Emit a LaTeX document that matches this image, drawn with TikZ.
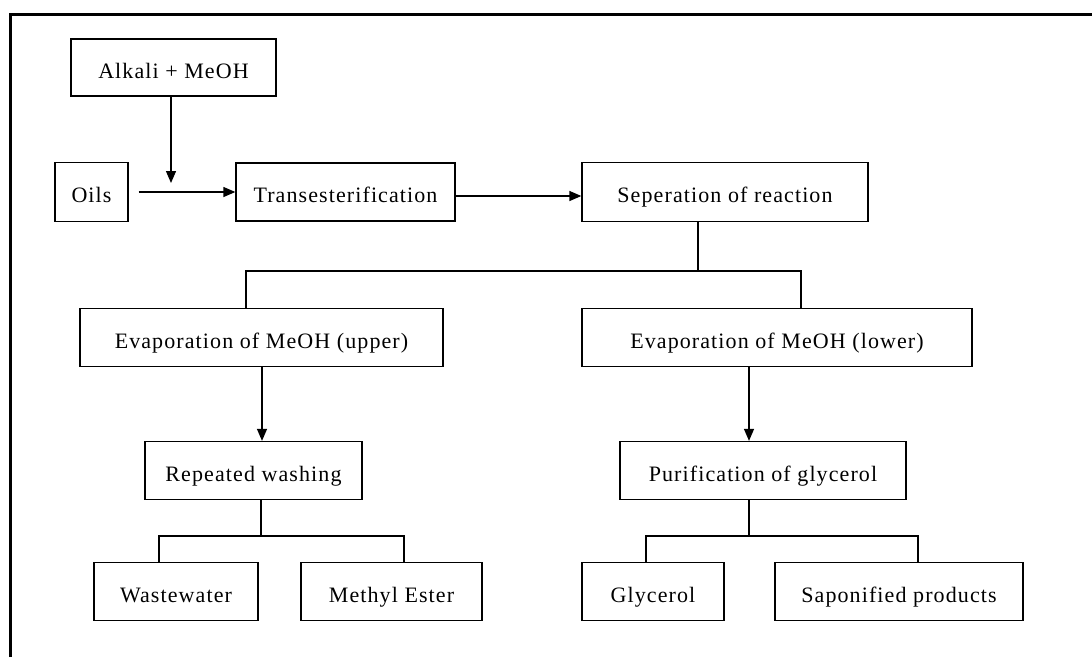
\documentclass[tikz,border=0pt]{standalone}
\usepackage{fontspec}
\setmainfont[LetterSpace=5]{Liberation Serif}
\usetikzlibrary{arrows.meta}
\begin{document}
\begin{tikzpicture}[x=1pt,y=-1pt,
  box/.style={draw=black,line width=1.3pt,inner sep=0pt,align=center,
    text height=22pt,text depth=1pt,
    font=\fontsize{22}{26}\selectfont},
  conn/.style={draw=black,line width=1.3pt},
  arr/.style={conn,-{Triangle[length=12pt,width=10pt]}}]
\useasboundingbox (0,0) rectangle (1092,657);
\fill[white] (0,0) rectangle (1092,657);
% outer frame
\draw[line width=3pt] (10,657) -- (10,14) -- (1092,14);
% boxes
\node[box,minimum width=205pt,minimum height=57pt] (alk) at (173.5,67.5) {Alkali + MeOH};
\node[box,minimum width=73pt,minimum height=59pt] (oils) at (91.5,192) {Oils};
\node[box,minimum width=219pt,minimum height=58pt] (trans) at (345.5,192) {Transesterification};
\node[box,minimum width=286pt,minimum height=59pt] (sep) at (725,192) {Seperation of reaction};
\node[box,minimum width=363pt,minimum height=58pt] (evu) at (261.5,337.5) {Evaporation of MeOH (upper)};
\node[box,minimum width=390pt,minimum height=58pt] (evl) at (777,337.5) {Evaporation of MeOH (lower)};
\node[box,minimum width=217pt,minimum height=58pt] (rep) at (253.5,470.5) {Repeated washing};
\node[box,minimum width=286pt,minimum height=58pt] (pur) at (763,470.5) {Purification of glycerol};
\node[box,minimum width=164pt,minimum height=58pt] (ww) at (176,591.5) {Wastewater};
\node[box,minimum width=181pt,minimum height=58pt] (me) at (391.5,591.5) {Methyl Ester};
\node[box,minimum width=142pt,minimum height=58pt] (gly) at (653,591.5) {Glycerol};
\node[box,minimum width=248pt,minimum height=58pt] (sap) at (899,591.5) {Saponified products};
% junction coordinates
\coordinate (ja) at (171,183);
\coordinate (j1) at (698,271);
\coordinate (j3) at (261,536);
\coordinate (j4) at (749,536);
% connectors
\draw[arr] (alk.south -| ja) -- (ja);
\draw[arr,shorten <=10pt] (oils.east) -- (trans.west);
\draw[arr] ([yshift=-4pt]trans.east) -- ([yshift=-4pt]sep.west);
\draw[conn] (sep.south -| j1) -- (j1);
\draw[conn] (j1) -| ([xshift=-15.5pt]evu.north);
\draw[conn] (j1) -| ([xshift=24pt]evl.north);
\draw[arr] ([xshift=0.5pt]evu.south) -- ([xshift=0.5pt]evu.south |- rep.north);
\draw[arr] ([xshift=-28pt]evl.south) -- ([xshift=-28pt]evl.south |- pur.north);
\draw[conn] (rep.south -| j3) -- (j3);
\draw[conn] (j3) -| ([xshift=-17pt]ww.north);
\draw[conn] (j3) -| ([xshift=12.5pt]me.north);
\draw[conn] (pur.south -| j4) -- (j4);
\draw[conn] (j4) -| ([xshift=-7pt]gly.north);
\draw[conn] (j4) -| ([xshift=19pt]sap.north);
\end{tikzpicture}
\end{document}
